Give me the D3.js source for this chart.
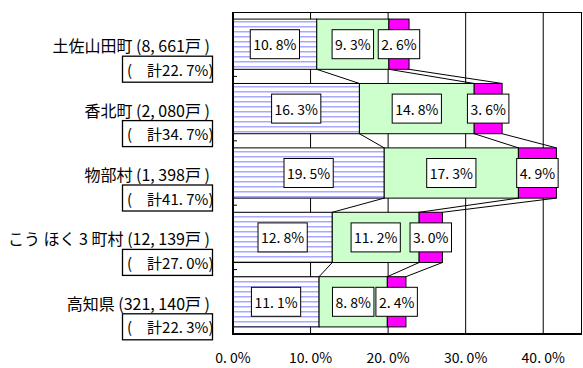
<!DOCTYPE html>
<html><head><meta charset="utf-8">
<script src="https://cdn.jsdelivr.net/npm/d3@7"></script>
<style>
body{margin:0;background:#fff;}
svg{display:block;}
text{font-family:"Noto Sans CJK JP","Noto Sans",sans-serif;}
</style></head>
<body><svg id="c" width="583" height="368"></svg>
<script>
const categories = ["土佐山田町 (8, 661戸 )", "香北町 (2, 080戸 )", "物部村 (1, 398戸 )", "こう ほく 3 町村 (12, 139戸 )", "高知県 (321, 140戸 )"];
const totals = ["(　計22. 7%)", "(　計34. 7%)", "(　計41. 7%)", "(　計27. 0%)", "(　計22. 3%)"];
const series1 = [10.8, 16.3, 19.5, 12.8, 11.1];
const series2 = [9.3, 14.8, 17.3, 11.2, 8.8];
const series3 = [2.6, 3.6, 4.9, 3.0, 2.4];
const xTicks = [0, 10, 20, 30, 40];
const xTickLabels = ["0. 0%", "10. 0%", "20. 0%", "30. 0%", "40. 0%"];

const svg = d3.select("#c");
const L = 233, R = 582, T = 12, B = 334;
const x = d3.scaleLinear().domain([0, 45]).range([L, R]);
const y = d3.scaleBand().domain(categories).range([T, B]).paddingInner(0.22).paddingOuter(0.11);

const defs = svg.append("defs");
const pat = defs.append("pattern").attr("id", "stripes").attr("patternUnits", "userSpaceOnUse")
  .attr("width", 8).attr("height", 5);
pat.append("rect").attr("width", 8).attr("height", 5).attr("fill", "#fff");
pat.append("rect").attr("y", 1).attr("width", 8).attr("height", 1.5).attr("fill", "#a8a8ff");

// gridlines
svg.append("g").selectAll("line").data(xTicks.slice(1)).join("line")
  .attr("x1", d => x(d)).attr("x2", d => x(d)).attr("y1", T).attr("y2", B)
  .attr("stroke", "#000").attr("stroke-width", 1);
// top and right border
svg.append("line").attr("x1", L).attr("x2", R).attr("y1", T + 0.5).attr("y2", T + 0.5).attr("stroke", "#000");
svg.append("line").attr("x1", R - 0.5).attr("x2", R - 0.5).attr("y1", T).attr("y2", B).attr("stroke", "#000");

const segs = [];
categories.forEach((c, i) => {
  const a = series1[i], b = series2[i], m = series3[i];
  segs.push({c, i, s: 0, x0: 0, x1: a, v: a});
  segs.push({c, i, s: 1, x0: a, x1: a + b, v: b});
  segs.push({c, i, s: 2, x0: a + b, x1: a + b + m, v: m});
});
const fills = ["url(#stripes)", "#ccffcc", "#ff00ff"];

svg.append("g").selectAll("rect").data(segs).join("rect")
  .attr("x", d => x(d.x0)).attr("y", d => y(d.c))
  .attr("width", d => x(d.x1) - x(d.x0)).attr("height", y.bandwidth())
  .attr("fill", d => fills[d.s]).attr("stroke", "#000").attr("stroke-width", 1);

// series lines
const lines = [];
const all = [series1, series2, series3];
const cum = (k, s) => all.slice(0, s + 1).reduce((p, arr) => p + arr[k], 0);
for (let i = 0; i < categories.length - 1; i++) {
  for (let s = 0; s < 3; s++) {
    lines.push({
      x1: x(cum(i, s)), y1: y(categories[i]) + y.bandwidth(),
      x2: x(cum(i + 1, s)), y2: y(categories[i + 1])
    });
  }
}
svg.append("g").selectAll("line").data(lines).join("line")
  .attr("x1", d => d.x1).attr("y1", d => d.y1).attr("x2", d => d.x2).attr("y2", d => d.y2)
  .attr("stroke", "#000").attr("stroke-width", 1);

// axes
svg.append("line").attr("x1", L).attr("x2", L).attr("y1", T).attr("y2", B + 1).attr("stroke", "#000").attr("stroke-width", 2);
svg.append("line").attr("x1", L - 1).attr("x2", R).attr("y1", B).attr("y2", B).attr("stroke", "#000").attr("stroke-width", 2);
const step = y.step();
svg.append("g").selectAll("line").data(d3.range(1, categories.length)).join("line")
  .attr("x1", L).attr("x2", L + 4)
  .attr("y1", k => T + k * step).attr("y2", k => T + k * step)
  .attr("stroke", "#000").attr("stroke-width", 1);

// data labels
const lab = svg.append("g").selectAll("g").data(segs).join("g");
lab.each(function(d) {
  const g = d3.select(this);
  const cx = (x(d.x0) + x(d.x1)) / 2, cy = y(d.c) + y.bandwidth() / 2;
  const r = g.append("rect");
  const t = g.append("text").attr("x", cx).attr("y", cy).attr("text-anchor", "middle")
    .attr("dominant-baseline", "central").attr("font-size", 14).text(d.v.toFixed(1).replace(".", ". ") + "%");
  const w = t.node().getComputedTextLength() + 6;
  r.attr("x", cx - w / 2).attr("y", cy - 14.5).attr("width", w).attr("height", 29)
    .attr("fill", "#fff").attr("stroke", "#000").attr("stroke-width", 1);
});

// category labels
const cl = svg.append("g").selectAll("g").data(categories).join("g");
cl.append("text").attr("x", 210).attr("y", d => y(d) + y.bandwidth() / 2 + 1)
  .attr("text-anchor", "end").attr("dominant-baseline", "central").attr("font-size", 16).text(d => d);
cl.append("rect").attr("x", 122.5).attr("y", d => y(d) + y.bandwidth() / 2 + 12)
  .attr("width", 90).attr("height", 26).attr("fill", "#fff").attr("stroke", "#000").attr("stroke-width", 1.3);
cl.append("text").attr("x", 127).attr("y", (d) => y(d) + y.bandwidth() / 2 + 25)
  .attr("dominant-baseline", "central").attr("font-size", 15).text((d, i) => totals[i]);

// x tick labels
svg.append("g").selectAll("text").data(xTicks).join("text")
  .attr("x", d => x(d)).attr("y", 357).attr("text-anchor", "middle").attr("dominant-baseline", "central")
  .attr("font-size", 14).text((d, i) => xTickLabels[i]);
</script></body></html>
